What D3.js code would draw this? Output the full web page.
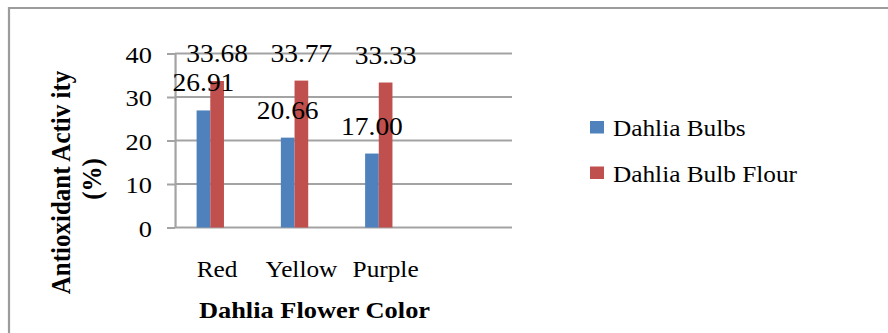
<!DOCTYPE html>
<html>
<head>
<meta charset="utf-8">
<script src="https://cdn.jsdelivr.net/npm/d3@7"></script>
<style>
  html, body { margin: 0; padding: 0; background: #fff; }
  svg { display: block; }
  text { font-family: "Liberation Serif", "Times New Roman", serif; fill: #000; }
</style>
</head>
<body>
<svg id="chart"></svg>
<script>
// Data
const categories = ["Red", "Yellow", "Purple"];
const seriesNames = ["Dahlia Bulbs", "Dahlia Bulb Flour"];
const bulbs = [26.91, 20.66, 17.00];
const bulbFlour = [33.68, 33.77, 33.33];
const yTicks = [0, 10, 20, 30, 40];
const seriesColors = ["#4F81BD", "#C0504D"];

const W = 888, H = 333;
const SX = 1.1;              // horizontal stretch of the whole drawing
const iw = W / SX;           // inner (unstretched) width
const X = v => v / SX;       // page x -> inner x

const svg = d3.select("#chart")
  .attr("width", W).attr("height", H)
  .attr("viewBox", `0 0 ${iw} ${H}`)
  .attr("preserveAspectRatio", "none");

// Outer frame
svg.append("rect")
  .attr("x", X(9)).attr("y", 8)
  .attr("width", iw).attr("height", H)
  .attr("fill", "none").attr("stroke", "#9c9c9c").attr("stroke-width", 2);

const plot = { left: X(175), right: X(512), top: 53.5, bottom: 227.5 };

// One spare slot after the last category and a spare slot per group
const x0 = d3.scaleBand()
  .domain([...categories, "_spare"])
  .range([plot.left, plot.right])
  .paddingInner(0.513).paddingOuter(0.2565);
const x1 = d3.scaleBand()
  .domain([0, 1, 2])
  .range([0, x0.bandwidth()]);
const y = d3.scaleLinear().domain([0, 40]).range([plot.bottom, plot.top]);

// Gridlines
svg.append("g").selectAll("line").data(yTicks).join("line")
  .attr("x1", plot.left).attr("x2", plot.right)
  .attr("y1", d => y(d)).attr("y2", d => y(d))
  .attr("stroke", "#a3a3a3").attr("stroke-width", 2);

// Y axis
const yAxis = svg.append("g")
  .attr("transform", `translate(${plot.left},0)`)
  .call(d3.axisLeft(y).tickValues(yTicks).tickSizeInner(X(8)).tickSizeOuter(0).tickPadding(X(15)));
yAxis.select(".domain").attr("stroke", "#a3a3a3").attr("stroke-width", 2);
yAxis.selectAll(".tick line").attr("stroke", "#a3a3a3").attr("stroke-width", 2);
yAxis.selectAll(".tick text")
  .attr("font-size", 24).attr("dy", "0.36em")
  .style("font-family", "Liberation Serif, Times New Roman, serif").attr("fill", "#000");

// Bars
const rows = categories.map((c, i) => ({ c, vals: [bulbs[i], bulbFlour[i]] }));
const groups = svg.append("g").selectAll("g").data(rows).join("g")
  .attr("transform", d => `translate(${x0(d.c)},0)`);
groups.selectAll("rect").data(d => d.vals.map((v, k) => ({ v, k }))).join("rect")
  .attr("x", d => x1(d.k)).attr("width", x1.bandwidth())
  .attr("y", d => y(d.v)).attr("height", d => y(0) - y(d.v))
  .attr("fill", d => seriesColors[d.k]);

// Value labels
groups.selectAll("text").data(d => d.vals.map((v, k) => ({ v, k }))).join("text")
  .attr("x", d => x1(d.k) + x1.bandwidth() / 2)
  .attr("y", d => y(d.v) - 19)
  .attr("text-anchor", "middle").attr("font-size", 25)
  .text(d => d.v.toFixed(2));

// Category labels
svg.append("g").selectAll("text").data(categories).join("text")
  .attr("x", d => x0(d) + x0.bandwidth() / 2).attr("y", 277)
  .attr("text-anchor", "middle").attr("font-size", 23)
  .text(d => d);

// Axis titles
svg.append("text")
  .attr("x", X(314.5)).attr("y", 318)
  .attr("text-anchor", "middle").attr("font-size", 24).attr("font-weight", "bold")
  .text("Dahlia Flower Color");

const yTitle = ["Antioxidant Activ ity", "(%)"];
svg.append("g").selectAll("text").data(yTitle).join("text")
  .attr("transform", (d, i) => `translate(${X(i ? 101 : 70)},${i ? 179 : 182.5}) rotate(-90)`)
  .attr("text-anchor", "middle").attr("font-size", 25).attr("font-weight", "bold")
  .text(d => d);

// Legend
const legend = svg.append("g").selectAll("g").data(seriesNames).join("g")
  .attr("transform", (d, i) => `translate(${X(590)},${121 + i * 45.5})`);
legend.append("rect")
  .attr("width", X(14)).attr("height", 12.5)
  .attr("fill", (d, i) => seriesColors[i]);
legend.append("text")
  .attr("x", X(23)).attr("y", 15)
  .attr("font-size", 23)
  .text(d => d);
</script>
</body>
</html>
